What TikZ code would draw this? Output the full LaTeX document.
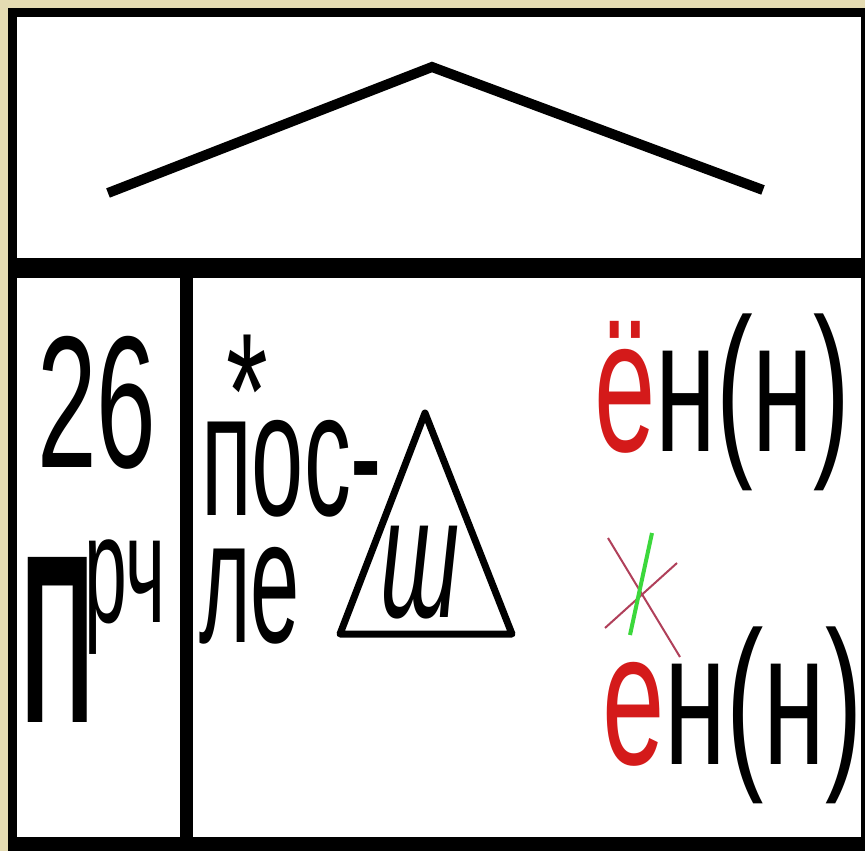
\documentclass[tikz,border=0pt]{standalone}
\usepackage{fontspec}
\setmainfont{Liberation Sans}
\usetikzlibrary{positioning}
\definecolor{parchment}{HTML}{E4DBB2}
\definecolor{letterred}{HTML}{D41A1A}
\definecolor{crossred}{HTML}{B0405A}
\definecolor{crossgreen}{HTML}{3CD83C}
\newcommand{\narrow}[2]{\scalebox{#1}[1]{#2}}
\newcommand{\fsz}[1]{\fontsize{#1}{#1}\selectfont}

\begin{document}
\begin{tikzpicture}[x=1pt, y=-1pt,
  txt/.style={inner sep=0pt, outer sep=0pt, anchor=base west},
  cell/.style={fill=white},
  roof/.style={line width=10pt, line join=miter},
  tri/.style={line width=7pt, line join=round}
]
\useasboundingbox (0,0) rectangle (865,851);

%% Frame and cells
\fill[parchment] (0,0) rectangle (865,851);
\fill[black] (8,8) rectangle (865,851);
\fill[cell] (17,17) rectangle (861,258);
\fill[cell] (17,278) rectangle (180,837);
\fill[cell] (193,278) rectangle (861,837);

%% Roof
\draw[roof] (108,193) -- (432,67) -- (763,190);

%% Left cell
\node[txt] (num) at (37,467) {\fsz{188}\narrow{0.57}{26}};
\node[txt] (pe) at (21,722) {\fsz{240}\bfseries\narrow{0.42}{П}};
\node[txt] (prch) at (84,622) {\fsz{154}\narrow{0.5}{рч}};

%% Middle cell
\node[txt] (star) at (226,448) {\fsz{165}\narrow{0.65}{*}};
\node[txt] (posle) at (201,515) {\fsz{177}\narrow{0.53}{пос-}};
\node[txt] (le) at (199,642) {\fsz{177}\narrow{0.5}{ле}};
\draw[tri] (425,413) -- (340,634) -- (512,634) -- cycle;
\node[txt] (sh) at (380,617) {\fsz{173}\itshape\narrow{0.55}{ш}};

%% Right cell
\node[txt] (yon) at (594,451)
  {\fsz{190}\narrow{0.58}{\textcolor{letterred}{ё}н(н)}};
\node[txt] (yen) at (602,764)
  {\fsz{190}\narrow{0.59}{\textcolor{letterred}{е}н(н)}};

%% Crossed-out mark
\draw[crossred, line width=2pt] (608,538) -- (680,657);
\draw[crossred, line width=2pt] (605,628) -- (677,563);
\draw[crossgreen, line width=4pt] (652,533) -- (630,635);

\end{tikzpicture}
\end{document}
